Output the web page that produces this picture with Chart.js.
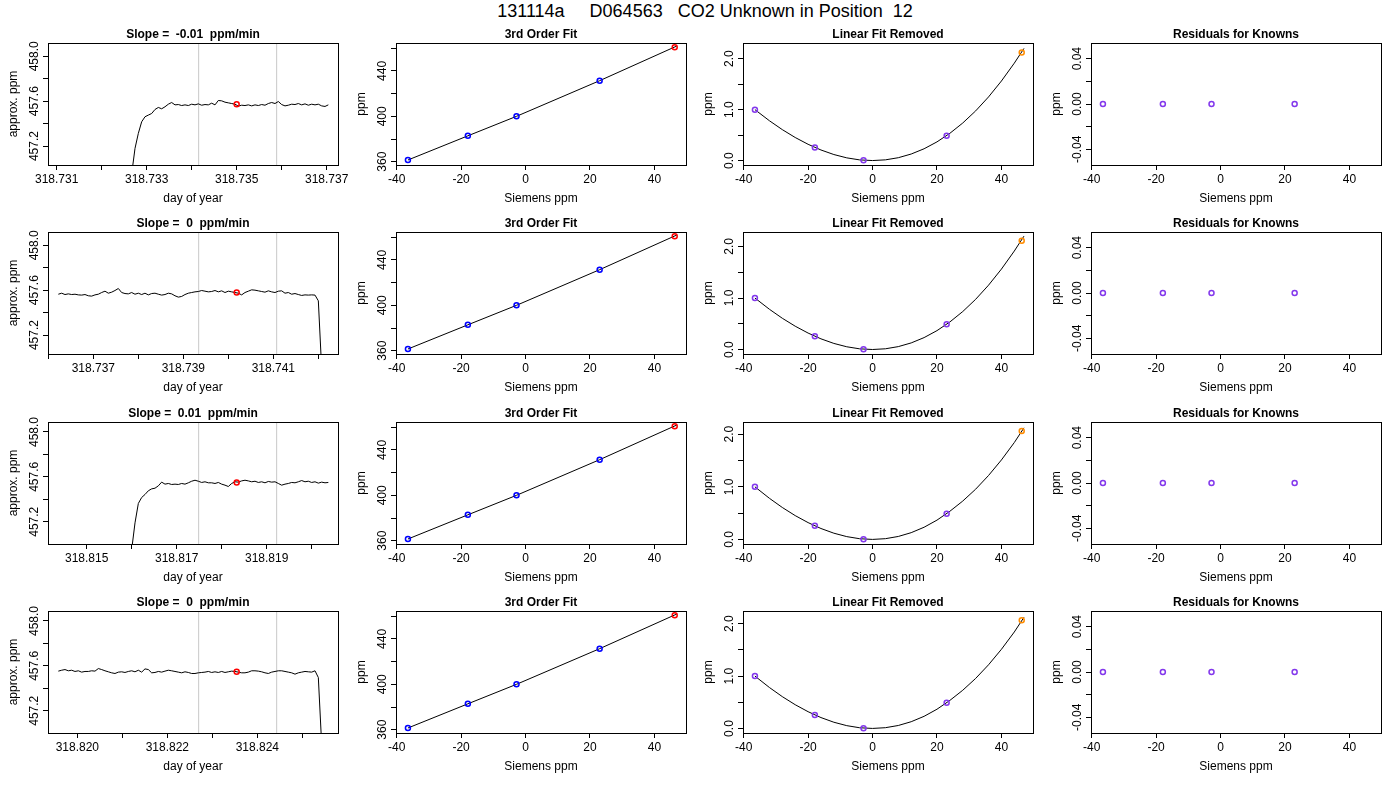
<!DOCTYPE html>
<html>
<head>
<meta charset="utf-8">
<title>CO2 Unknown in Position 12</title>
<script src="https://cdn.jsdelivr.net/npm/chart.js@4.4.1/dist/chart.umd.min.js"></script>
<style>
  html, body { margin: 0; padding: 0; background: #fff; }
  body { position: relative; width: 1400px; height: 800px; overflow: hidden; }
  #title { position: absolute; left: 10px; top: 1px; width: 1390px; text-align: center;
           font: 18px "Liberation Sans", Arial, sans-serif; line-height: 20px; white-space: pre; color: #000; }
  canvas { position: absolute; }
</style>
</head>
<body>
<div id="title"></div>
<script>
// ---- values ----
const pageTitle = '131114a     D064563   CO2 Unknown in Position  12';
const slopeTitles = ['Slope =  -0.01  ppm/min', 'Slope =  0  ppm/min', 'Slope =  0.01  ppm/min', 'Slope =  0  ppm/min'];

// analyser traces (day of year vs approx. ppm), one sample every ~6.4 s
const traceStart = [318.7325926, 318.7362222, 318.8159259, 318.8195778];
const traceStep = 0.000074074;
const trace1 = [455.5, 456.95, 457.179, 457.313, 457.416, 457.461, 457.476, 457.490, 457.526, 457.544,
  457.532, 457.550, 457.573, 457.588, 457.567, 457.570, 457.561, 457.567, 457.561, 457.573,
  457.567, 457.576, 457.564, 457.570, 457.567, 457.582, 457.567, 457.606, 457.603, 457.591,
  457.585, 457.579, 457.573, 457.556, 457.564, 457.561, 457.567, 457.558, 457.567, 457.561,
  457.570, 457.564, 457.579, 457.588, 457.579, 457.597, 457.570, 457.558, 457.564, 457.573,
  457.570, 457.579, 457.567, 457.576, 457.564, 457.573, 457.567, 457.573, 457.558, 457.553, 457.567];
const trace2 = [457.564, 457.573, 457.561, 457.567, 457.561, 457.564, 457.558, 457.556, 457.561, 457.550,
  457.547, 457.558, 457.564, 457.579, 457.591, 457.573, 457.582, 457.597, 457.615, 457.579,
  457.570, 457.567, 457.579, 457.564, 457.573, 457.561, 457.573, 457.558, 457.570, 457.573,
  457.564, 457.556, 457.561, 457.573, 457.567, 457.550, 457.538, 457.544, 457.561, 457.573,
  457.579, 457.585, 457.588, 457.597, 457.591, 457.585, 457.588, 457.597, 457.585, 457.594,
  457.579, 457.591, 457.585, 457.579, 457.573, 457.558, 457.579, 457.591, 457.603, 457.600,
  457.594, 457.588, 457.582, 457.594, 457.585, 457.579, 457.591, 457.594, 457.573, 457.579,
  457.564, 457.570, 457.561, 457.553, 457.558, 457.556, 457.558, 457.556, 457.505, 456.9,
  455.6, 454.5];
const trace3 = [455.5, 456.95, 457.19, 457.363, 457.416, 457.443, 457.476, 457.493, 457.499, 457.520,
  457.553, 457.535, 457.541, 457.532, 457.535, 457.532, 457.541, 457.535, 457.547, 457.561,
  457.570, 457.561, 457.550, 457.556, 457.547, 457.547, 457.541, 457.550, 457.535, 457.526,
  457.514, 457.541, 457.556, 457.553, 457.564, 457.570, 457.564, 457.556, 457.561, 457.550,
  457.556, 457.547, 457.559, 457.553, 457.556, 457.541, 457.526, 457.535, 457.541, 457.550,
  457.547, 457.556, 457.567, 457.556, 457.561, 457.550, 457.556, 457.544, 457.553, 457.547, 457.550];
const trace4 = [457.553, 457.561, 457.567, 457.556, 457.561, 457.550, 457.556, 457.544, 457.550, 457.550,
  457.556, 457.553, 457.576, 457.567, 457.556, 457.547, 457.538, 457.532, 457.544, 457.547,
  457.541, 457.550, 457.556, 457.547, 457.561, 457.544, 457.573, 457.567, 457.538, 457.541,
  457.550, 457.544, 457.553, 457.561, 457.556, 457.550, 457.544, 457.538, 457.547, 457.541,
  457.532, 457.532, 457.538, 457.541, 457.544, 457.550, 457.541, 457.547, 457.541, 457.550,
  457.541, 457.547, 457.553, 457.550, 457.544, 457.538, 457.538, 457.544, 457.556, 457.556,
  457.553, 457.547, 457.538, 457.532, 457.544, 457.550, 457.556, 457.556, 457.550, 457.544,
  457.538, 457.526, 457.538, 457.544, 457.550, 457.547, 457.544, 457.556, 457.496, 456.9,
  455.6, 454.5];
const traces = [trace1, trace2, trace3, trace4];
const traceXMin = [318.7308074, 318.7359926, 318.8141407, 318.8193482];
const traceXMax = [318.7372518, 318.7424370, 318.8205851, 318.8257926];
const traceYMin = [457.031, 457.031, 457.0015, 457.0015];
const traceYMax = [458.1185, 458.1185, 458.089, 458.089];
const windowMarks = [[318.7341556, 318.7358889], [318.7393409, 318.7410742],
                     [318.8174889, 318.8192222], [318.8226964, 318.8244298]];
const sampleTime = [318.735, 318.7401853, 318.8183333, 318.8235409];
const sampleValue = [457.573, 457.579, 457.550, 457.547];
const dayTickLabels = [['318.731', '318.733', '318.735', '318.737'],
                       ['318.737', '318.739', '318.741'],
                       ['318.815', '318.817', '318.819'],
                       ['318.820', '318.822', '318.824']];
const approxTickLabels = ['457.2', '457.6', '458.0'];

// calibration: Siemens ppm vs assigned ppm
const knownSiemens = [-36.5, -17.9, -2.8, 23.0];
const knownPpm = [361.5, 382.8, 400.0, 431.4];
const fitSiemens = [-36.5, -17.9, -2.8, 23.0, 47.0];
const fitPpm = [361.5, 382.8, 400.0, 431.4, 462.0];
const unknownSiemens = [46.3, 46.3, 46.3, 46.3];
const unknownPpm = [460.9, 460.9, 460.8, 460.8];
const ppmTickLabels = ['360', '400', '440'];
const siemensTickLabels = ['-40', '-20', '0', '20', '40'];

// linear fit removed
const knownNonlin = [1.0, 0.26, 0.006, 0.49];
const curveSiemens = [-36.5, -32, -28, -24, -20, -16, -12, -8, -4, 0, 4, 8, 12, 16, 20, 24, 28, 32, 36, 40, 44, 47];
const curveNonlinA = [1.0, 0.782, 0.608, 0.454, 0.321, 0.209, 0.120, 0.055, 0.015, 0.002, 0.016,
  0.058, 0.130, 0.233, 0.368, 0.536, 0.738, 0.975, 1.249, 1.561, 1.911, 2.200];
const curveNonlinB = [1.0, 0.782, 0.608, 0.454, 0.321, 0.209, 0.120, 0.055, 0.015, 0.002, 0.016,
  0.058, 0.130, 0.233, 0.368, 0.536, 0.730, 0.955, 1.215, 1.510, 1.840, 2.120];
const curveNonlin = [curveNonlinA, curveNonlinA, curveNonlinB, curveNonlinB];
const unknownNonlin = [2.12, 2.11, 2.06, 2.065];
const nonlinYMax = [2.306, 2.28, 2.23, 2.24];
const nonlinTickLabels = ['0.0', '1.0', '2.0'];

// residuals for knowns
const knownResid = [0, 0, 0, 0];
const residTickLabels = ['-0.04', '0.00', '0.04'];

// ---- drawing ----
const FONT = '"Liberation Sans", Arial, Helvetica, sans-serif';
Chart.defaults.font.family = FONT;
Chart.defaults.font.size = 12;
Chart.defaults.color = '#000';

const CELL_W = 347.5, CELL_H = 189.33;

function fmt(v, d) {
  const x = Math.abs(v) < 1e-9 ? 0 : v;
  return x.toFixed(d);
}

// box round the plot, rotated y labels and panel title, R style
const rFrame = {
  id: 'rFrame',
  afterDraw(chart, args, o) {
    const ctx = chart.ctx, a = chart.chartArea, ys = chart.scales.y;
    const l = Math.round(a.left), t = Math.round(a.top), r = Math.round(a.right), b = Math.round(a.bottom);
    ctx.save();
    ctx.strokeStyle = '#000';
    ctx.lineWidth = 1;
    ctx.strokeRect(l + 0.5, t + 0.5, r - l, b - t);
    ctx.fillStyle = '#000';
    ctx.font = '12px ' + FONT;
    ctx.textAlign = 'center';
    ctx.textBaseline = 'middle';
    ys.ticks.forEach(tk => {
      const s = fmt(tk.value, o.digits);
      if (!o.yLabels.includes(s)) return;
      ctx.save();
      ctx.translate(a.left - 13, ys.getPixelForValue(tk.value));
      ctx.rotate(-Math.PI / 2);
      ctx.fillText(s, 0, 0);
      ctx.restore();
    });
    ctx.font = 'bold 12px ' + FONT;
    ctx.fillText(o.title, (a.left + a.right) / 2, a.top - 8);
    ctx.restore();
  }
};

function xAxis(min, max, step, labels, digits, title) {
  return {
    type: 'linear', position: 'bottom', min: min, max: max,
    afterFit: s => { s.height = 46; },
    border: { display: true, color: '#000', width: 1 },
    grid: { drawOnChartArea: false, drawTicks: true, tickLength: 5, color: '#000', lineWidth: 1 },
    ticks: {
      stepSize: step, includeBounds: false, autoSkip: false, maxRotation: 0, minRotation: 0,
      padding: 2, color: '#000', font: { size: 12 },
      callback: v => { const s = fmt(v, digits); return labels.includes(s) ? s : ''; }
    },
    title: { display: true, text: title, color: '#000', font: { size: 12 }, padding: { top: 0, bottom: 5 } }
  };
}

function yAxis(min, max, step, title) {
  return {
    type: 'linear', position: 'left', min: min, max: max,
    afterFit: s => { s.width = 48; },
    border: { display: true, color: '#000', width: 1 },
    grid: { drawOnChartArea: false, drawTicks: true, tickLength: 5, color: '#000', lineWidth: 1 },
    ticks: { stepSize: step, includeBounds: false, display: false },
    title: { display: true, text: title, color: '#000', font: { size: 12 }, padding: { top: 6.5, bottom: 0 } }
  };
}

function pts(xs, ys) {
  return xs.map((x, i) => ({ x: x, y: ys[i] }));
}

function circles(data, color) {
  return { data: data, showLine: false, pointRadius: 2.5, pointHoverRadius: 2.5, pointBorderWidth: 1.5,
           pointBorderColor: color, pointBackgroundColor: 'rgba(0,0,0,0)', order: 0 };
}

function curve(data, color, order) {
  return { data: data, borderColor: color, borderWidth: 1, pointRadius: 0, fill: false, tension: 0, order: order };
}

function panel(row, col, datasets, scales, frame) {
  const cv = document.createElement('canvas');
  cv.width = 352;
  cv.height = 189;
  cv.style.left = Math.round(CELL_W * col) + 'px';
  cv.style.top = Math.round(22 + CELL_H * row) + 'px';
  document.body.appendChild(cv);
  new Chart(cv, {
    type: 'line',
    data: { datasets: datasets },
    options: {
      responsive: false,
      animation: false,
      events: [],
      layout: { padding: { top: 21, right: 14, bottom: 0, left: 0 } },
      plugins: { legend: { display: false }, tooltip: { enabled: false }, rFrame: frame },
      scales: scales
    },
    plugins: [rFrame]
  });
}

document.getElementById('title').textContent = pageTitle;

for (let r = 0; r < 4; r++) {
  const times = traces[r].map((v, i) => traceStart[r] + i * traceStep);
  const marks = windowMarks[r].map(t => curve([{ x: t, y: traceYMin[r] }, { x: t, y: traceYMax[r] }], '#c8c8c8', 2));
  panel(r, 0,
    [circles([{ x: sampleTime[r], y: sampleValue[r] }], '#ff0000'),
     curve(pts(times, traces[r]), '#000', 1)].concat(marks),
    { x: xAxis(traceXMin[r], traceXMax[r], 0.001, dayTickLabels[r], 3, 'day of year'),
      y: yAxis(traceYMin[r], traceYMax[r], 0.2, 'approx. ppm') },
    { title: slopeTitles[r], yLabels: approxTickLabels, digits: 1 });

  panel(r, 1,
    [circles(pts(knownSiemens, knownPpm), '#0000ff'),
     circles([{ x: unknownSiemens[r], y: unknownPpm[r] }], '#ff0000'),
     curve(pts(fitSiemens, fitPpm), '#000', 1)],
    { x: xAxis(-40.2, 49.8, 20, siemensTickLabels, 0, 'Siemens ppm'),
      y: yAxis(357.1, 464.6, 20, 'ppm') },
    { title: '3rd Order Fit', yLabels: ppmTickLabels, digits: 0 });

  panel(r, 2,
    [circles(pts(knownSiemens, knownNonlin), '#8338ec'),
     circles([{ x: unknownSiemens[r], y: unknownNonlin[r] }], '#ff8c00'),
     curve(pts(curveSiemens, curveNonlin[r]), '#000', 1)],
    { x: xAxis(-40.2, 49.8, 20, siemensTickLabels, 0, 'Siemens ppm'),
      y: yAxis(-0.085, nonlinYMax[r], 0.5, 'ppm') },
    { title: 'Linear Fit Removed', yLabels: nonlinTickLabels, digits: 1 });

  panel(r, 3,
    [circles(pts(knownSiemens, knownResid), '#8338ec')],
    { x: xAxis(-40.2, 49.8, 20, siemensTickLabels, 0, 'Siemens ppm'),
      y: yAxis(-0.0538, 0.0538, 0.02, 'ppm') },
    { title: 'Residuals for Knowns', yLabels: residTickLabels, digits: 2 });
}
</script>
</body>
</html>
